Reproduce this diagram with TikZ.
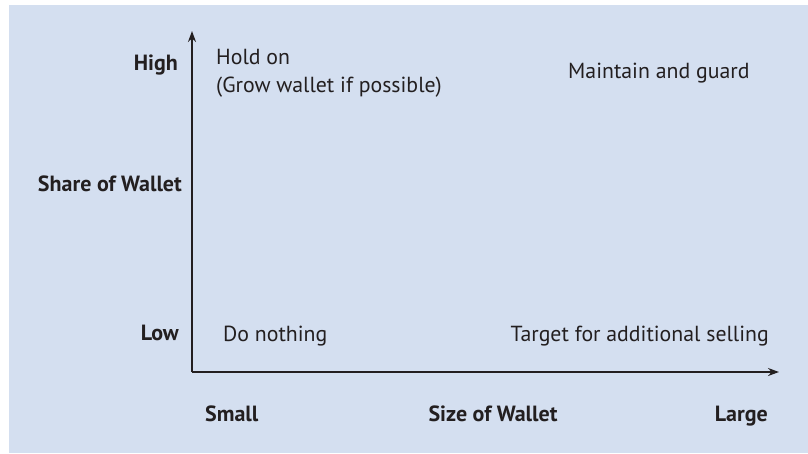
\documentclass[tikz,border=0pt]{standalone}
\usepackage{fontspec}
\setmainfont{PT Sans}
\usetikzlibrary{positioning,arrows.meta}
\definecolor{panelblue}{HTML}{D4DFF0}
\definecolor{inkgray}{HTML}{231F20}

\begin{document}
\begin{tikzpicture}[x=1pt,y=-1pt]
        \tikzstyle{every node}=[font=\fontsize{21.8}{27.5}\selectfont, text=inkgray, inner sep=0pt]
        \tikzstyle{axislabel}=[font=\bfseries\fontsize{22}{26}\selectfont]
        \tikzstyle{axisline}=[draw=inkgray, line width=2.3pt, -{Stealth[length=11pt,width=8pt]}]
        \useasboundingbox (0,0) rectangle (808,453);
        \fill[panelblue] (9,5) rectangle (808,453);
        % axes
        \coordinate (origin) at (192,372);
        \coordinate (ytop) at (192,31);
        \coordinate (xend) at (779,372);
        \draw[axisline] (origin) -- (ytop);
        \draw[axisline] (origin) -- (xend);
        % vertical axis labels
        \node[axislabel, anchor=base east] (high) at (178,70) {High};
        \node[axislabel, anchor=base east] (share) at (182,191) {Share of Wallet};
        \node[axislabel, anchor=base east] (low) at (179,340) {Low};
        % horizontal axis labels
        \node[axislabel, anchor=base west] (small) at (205,421) {Small};
        \node[axislabel, anchor=base] (size) at (493,421) {Size of Wallet};
        \node[axislabel, anchor=base east] (large) at (768,421) {Large};
        % quadrants
        \node[anchor=base west, align=left] (holdon) at (216,92) {Hold on\\(Grow wallet if possible)};
        \node[anchor=base west] (maintain) at (568,78) {Maintain and guard};
        \node[anchor=base west] (nothing) at (223,341) {Do nothing};
        \node[anchor=base east] (target) at (769,341) {Target for additional selling};
    \end{tikzpicture}
\end{document}
